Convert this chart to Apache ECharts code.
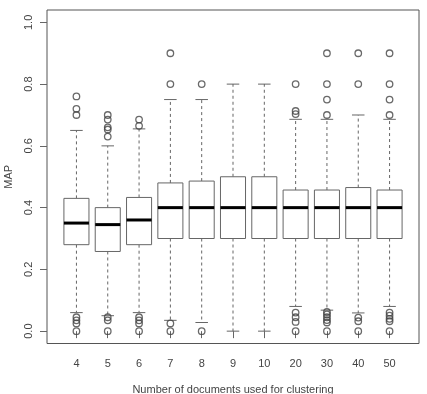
<!DOCTYPE html>
<html>
<head>
<meta charset="utf-8">
<script src="https://cdn.jsdelivr.net/npm/echarts@6/dist/echarts.min.js"></script>
<style>html,body{margin:0;padding:0;background:#fff}#c{width:427px;height:394px}</style>
</head>
<body>
<div id="c"></div>
<script>
const categories = ['4','5','6','7','8','9','10','20','30','40','50'];
const lowerWhisker = [0.06, 0.05, 0.06, 0.035, 0.028, 0.0, 0.0, 0.08, 0.068, 0.059, 0.08];
const q1 =           [0.28, 0.258, 0.28, 0.30, 0.30, 0.30, 0.30, 0.30, 0.30, 0.30, 0.30];
const median =       [0.35, 0.345, 0.36, 0.40, 0.40, 0.40, 0.40, 0.40, 0.40, 0.40, 0.40];
const q3 =           [0.43, 0.40, 0.433, 0.48, 0.486, 0.50, 0.50, 0.457, 0.457, 0.465, 0.457];
const upperWhisker = [0.65, 0.60, 0.655, 0.75, 0.75, 0.80, 0.80, 0.686, 0.686, 0.70, 0.686];
const outliers = [
  [0.76, 0.72, 0.70, 0.045, 0.035, 0.025, 0.0],
  [0.70, 0.685, 0.66, 0.653, 0.63, 0.045, 0.035, 0.0],
  [0.685, 0.665, 0.045, 0.035, 0.025, 0.0],
  [0.90, 0.80, 0.025, 0.0],
  [0.80, 0.0],
  [],
  [],
  [0.80, 0.713, 0.703, 0.06, 0.045, 0.03, 0.0],
  [0.90, 0.80, 0.75, 0.70, 0.062, 0.054, 0.045, 0.036, 0.028, 0.0],
  [0.90, 0.80, 0.044, 0.032, 0.0],
  [0.90, 0.80, 0.75, 0.70, 0.06, 0.05, 0.04, 0.032, 0.0]
];
const yTicks = [0, 0.2, 0.4, 0.6, 0.8, 1.0];
const xTicks = categories.map((c, i) => i + 1);

const boxData = categories.map((c, i) => [i + 1, lowerWhisker[i], q1[i], median[i], q3[i], upperWhisker[i]]);
const outData = [];
outliers.forEach((arr, i) => arr.forEach(v => outData.push([i + 1, v])));

const gray = '#666';
const textColor = '#444';

const chart = echarts.init(document.getElementById('c'), null, {renderer: 'canvas'});
chart.setOption({
  animation: false,
  backgroundColor: '#fff',
  grid: {left: 47, top: 10, right: 8, bottom: 50.5, show: true, borderColor: '#555', borderWidth: 1,
    backgroundColor: 'transparent', containLabel: false, outerBoundsMode: 'none'},
  xAxis: {
    type: 'value', min: 0.06, max: 11.94,
    name: 'Number of documents used for clustering', nameLocation: 'middle', nameGap: 41,
    nameTextStyle: {color: textColor, fontFamily: 'Liberation Sans', fontSize: 11},
    axisLine: {show: false},
    splitLine: {show: false},
    axisTick: {show: true, inside: false, length: 7, lineStyle: {color: gray}, customValues: xTicks},
    axisLabel: {color: textColor, fontFamily: 'Liberation Sans', fontSize: 11, margin: 15, customValues: xTicks,
      formatter: v => categories[Math.round(v) - 1]}
  },
  yAxis: {
    type: 'value', min: -0.04, max: 1.04,
    name: 'MAP', nameLocation: 'middle', nameGap: 33, nameRotate: 90,
    nameTextStyle: {color: textColor, fontFamily: 'Liberation Sans', fontSize: 11},
    axisLine: {show: false},
    splitLine: {show: false},
    axisTick: {show: true, inside: false, length: 7, lineStyle: {color: gray}, customValues: yTicks},
    axisLabel: {color: textColor, fontFamily: 'Liberation Sans', fontSize: 11, margin: 13, rotate: 90, customValues: yTicks,
      formatter: v => v.toFixed(1)}
  },
  series: [
    {
      type: 'custom',
      data: boxData,
      renderItem: function (params, api) {
        const x = api.value(0);
        const pLw = api.coord([x, api.value(1)]);
        const pQ1 = api.coord([x, api.value(2)]);
        const pMed = api.coord([x, api.value(3)]);
        const pQ3 = api.coord([x, api.value(4)]);
        const pUw = api.coord([x, api.value(5)]);
        const hw = api.size([0.8, 0])[0] / 2;
        const cw = hw / 2;
        const cx = pMed[0];
        const dash = {stroke: gray, lineWidth: 1, lineDash: [3, 3]};
        const solid = {stroke: gray, lineWidth: 1};
        return {
          type: 'group',
          children: [
            {type: 'line', shape: {x1: cx, y1: pQ3[1], x2: cx, y2: pUw[1]}, style: dash},
            {type: 'line', shape: {x1: cx, y1: pQ1[1], x2: cx, y2: pLw[1]}, style: dash},
            {type: 'line', shape: {x1: cx - cw, y1: pUw[1], x2: cx + cw, y2: pUw[1]}, style: solid},
            {type: 'line', shape: {x1: cx - cw, y1: pLw[1], x2: cx + cw, y2: pLw[1]}, style: solid},
            {type: 'rect', shape: {x: cx - hw, y: pQ3[1], width: 2 * hw, height: pQ1[1] - pQ3[1]}, style: {fill: '#fff', stroke: gray, lineWidth: 1}},
            {type: 'line', shape: {x1: cx - hw, y1: pMed[1], x2: cx + hw, y2: pMed[1]}, style: {stroke: '#000', lineWidth: 3}}
          ]
        };
      }
    },
    {
      type: 'scatter',
      data: outData,
      symbol: 'circle',
      symbolSize: 6.5,
      itemStyle: {color: 'transparent', borderColor: '#444', borderWidth: 1.3},
      z: 5
    }
  ]
});
</script>
</body>
</html>
